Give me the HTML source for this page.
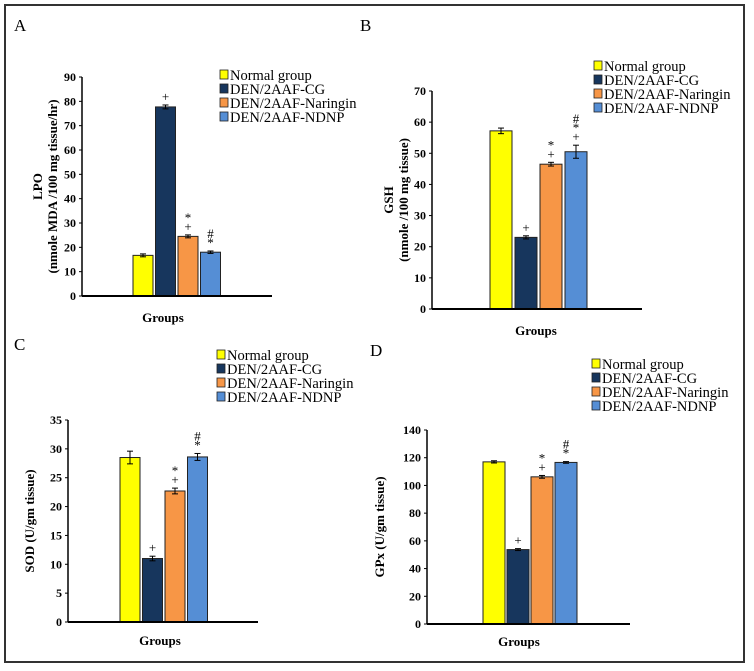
<!DOCTYPE html>
<html><head><meta charset="utf-8"><style>
body{margin:0;background:#fff;}
svg{display:block;font-family:"Liberation Serif",serif;}
</style></head><body>
<svg id="fig" width="754" height="671" viewBox="0 0 754 671">
<rect x="5" y="5" width="739" height="657" fill="none" stroke="#333" stroke-width="2"/>
</svg>
<script>
const groups = ["Normal group","DEN/2AAF-CG","DEN/2AAF-Naringin","DEN/2AAF-NDNP"];
const colors = ["#ffff00","#17365d","#f79646","#558ed5"];
const valsA = [16.7, 77.7, 24.5, 18.0];
const errA = [0.6, 0.8, 0.6, 0.5];
const marksA = ["", "+", "+*", "*#"];
const ticksA = [0,10,20,30,40,50,60,70,80,90];
const valsB = [57.2, 23.0, 46.5, 50.5];
const errB = [0.9, 0.5, 0.6, 2.1];
const marksB = ["", "+", "+*", "+*#"];
const ticksB = [0,10,20,30,40,50,60,70];
const valsC = [28.5, 11.0, 22.7, 28.6];
const errC = [1.1, 0.4, 0.5, 0.6];
const marksC = ["", "+", "+*", "*#"];
const ticksC = [0,5,10,15,20,25,30,35];
const valsD = [117.0, 53.7, 106.2, 116.6];
const errD = [0.8, 0.7, 1.0, 0.6];
const marksD = ["", "+", "+*", "*#"];
const ticksD = [0,20,40,60,80,100,120,140];

const NS="http://www.w3.org/2000/svg";
const svg=document.getElementById('fig');
function mk(tag,attrs,parent,text){const e=document.createElementNS(NS,tag);for(const k in attrs)e.setAttribute(k,attrs[k]);if(text!==undefined)e.textContent=text;(parent||svg).appendChild(e);return e;}

function panel(cfg,vals,errs,marks,ticks){
  const g=mk('g',{});
  
  
  const max=ticks[ticks.length-1];
  const y=v=>cfg.y0-(v/max)*(cfg.y0-cfg.yTop);
  const lbl=mk('text',{x:cfg.lx,y:cfg.ly,'font-size':17},g,cfg.key);
  
  
  ticks.forEach(t=>{
    const tt=mk('text',{x:cfg.ax-6,y:y(t)+4,'font-size':12,'font-weight':'bold','text-anchor':'end'},g,String(t));
    
    
    mk('line',{x1:cfg.ax-3,x2:cfg.ax,y1:y(t),y2:y(t),stroke:'#000','stroke-width':1},g);
  });
  const ya=mk('line',{x1:cfg.ax,x2:cfg.ax,y1:cfg.yTop,y2:cfg.y0,stroke:'#000','stroke-width':1.5},g);
  
  
  vals.forEach((v,i)=>{
    const x=cfg.bx+i*cfg.step;
    const b=mk('rect',{x:x,y:y(v),width:cfg.bw,height:cfg.y0-y(v),fill:colors[i],stroke:'#222','stroke-width':1},g);
    
    
    const cx=x+cfg.bw/2, e=errs[i];
    mk('line',{x1:cx,x2:cx,y1:y(v+e),y2:y(v-e),stroke:'#000'},g);
    mk('line',{x1:cx-3,x2:cx+3,y1:y(v+e),y2:y(v+e),stroke:'#000'},g);
    mk('line',{x1:cx-3,x2:cx+3,y1:y(v-e),y2:y(v-e),stroke:'#000'},g);
    const ms=marks[i].split('');
    ms.forEach((m,j)=>{
      const t=mk('text',{x:cx,y:y(v+e)-4-j*9,'font-size':13,'text-anchor':'middle'},g,m);
      
      
    });
  });
  const xa=mk('line',{x1:cfg.ax,x2:cfg.axEnd,y1:cfg.y0,y2:cfg.y0,stroke:'#000','stroke-width':2},g);
  
  
  const gt=mk('text',{x:cfg.gx,y:cfg.gy,'font-size':13,'font-weight':'bold','text-anchor':'middle'},g,'Groups');
  
  
  const yt=mk('text',{transform:`translate(${cfg.ytx},${(cfg.yTop+cfg.y0)/2}) rotate(-90)`,'font-size':13,'font-weight':'bold','text-anchor':'middle'},g);
  
  
  cfg.ytitle.forEach((line,k)=>{mk('tspan',{x:0,dy:k===0?0:15},yt,line);});
  const lg=mk('g',{},g);
  
  
  groups.forEach((n,i)=>{
    const ry=cfg.legY+i*14;
    const s=mk('rect',{x:cfg.legX,y:ry-5,width:8,height:9,fill:colors[i],stroke:'#222','stroke-width':0.8},lg);
    
    
    const t=mk('text',{x:cfg.legX+10,y:ry+5,'font-size':14.5},lg,n);
    
    
  });
}
panel({key:'A',lx:14,ly:31,ax:82,axEnd:272,yTop:77,y0:296,bx:133,step:22.5,bw:20,gx:163,gy:322,ytx:42,ytitle:['LPO','(nmole MDA /100 mg tissue/hr)'],legX:220,legY:75},valsA,errA,marksA,ticksA);
panel({key:'B',lx:360,ly:31,ax:432,axEnd:642,yTop:91,y0:309,bx:490,step:25,bw:22,gx:536,gy:335,ytx:393,ytitle:['GSH','(nmole /100 mg tissue)'],legX:594,legY:66},valsB,errB,marksB,ticksB);
panel({key:'C',lx:14,ly:350,ax:68,axEnd:258,yTop:420,y0:622,bx:120,step:22.5,bw:20,gx:160,gy:645,ytx:34,ytitle:['SOD  (U/gm tissue)'],legX:217,legY:355},valsC,errC,marksC,ticksC);
panel({key:'D',lx:370,ly:356,ax:427,axEnd:630,yTop:430,y0:624,bx:483,step:24,bw:22,gx:519,gy:646,ytx:384,ytitle:['GPx  (U/gm tissue)'],legX:592,legY:364},valsD,errD,marksD,ticksD);
</script>
</body></html>
